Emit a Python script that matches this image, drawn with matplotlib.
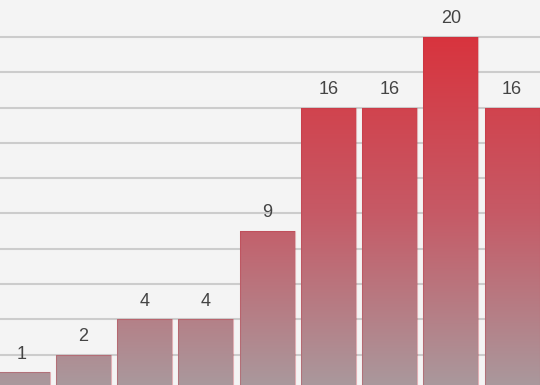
import matplotlib
matplotlib.use("Agg")
import matplotlib.pyplot as plt
import numpy as np
from matplotlib.colors import LinearSegmentedColormap

categories = ["A", "B", "C", "D", "E", "F", "G", "H", "I"]
values = [1, 2, 4, 4, 9, 16, 16, 20, 16]
grid_values = list(range(2, 22, 2))

plt.rcParams['font.family'] = ['Liberation Sans', 'DejaVu Sans']

fig = plt.figure(figsize=(5.4, 3.85), dpi=100)
fig.patch.set_facecolor("#f4f4f4")
ax = fig.add_axes([0, 0, 1, 1])
ax.set_facecolor("#f4f4f4")

x = np.arange(len(values))

for g in grid_values:
    ax.axhline(g, color="#cccccc", lw=1.5, zorder=0)

cmap = LinearSegmentedColormap.from_list("g", ["#a99a9e", "#c65a66", "#d8343e"])
grad = np.linspace(0, 1, 256).reshape(-1, 1)

bars = ax.bar(x, values, width=0.898, color="none", edgecolor="none", zorder=2)
for b in bars:
    im = ax.imshow(grad, cmap=cmap, origin="lower", aspect="auto",
                   extent=[-0.5, 8.6, 0, 20], zorder=2, vmin=0, vmax=1)
    im.set_clip_path(b)
    ax.add_patch(plt.Rectangle(b.get_xy(), b.get_width(), b.get_height(),
                               fill=False, edgecolor=(0.75, 0.2, 0.25, 0.35),
                               lw=0.8, zorder=3))

for xi, v in zip(x, values):
    ax.text(xi, v + 0.55, str(v), ha="center", va="bottom",
            fontsize=13, color="#444444", zorder=4)

ax.set_xlim(-0.361, 8.456)
ax.set_ylim(0.28, 22.1)
ax.axis("off")
fig.savefig("out.png", dpi=100, facecolor=fig.get_facecolor())
